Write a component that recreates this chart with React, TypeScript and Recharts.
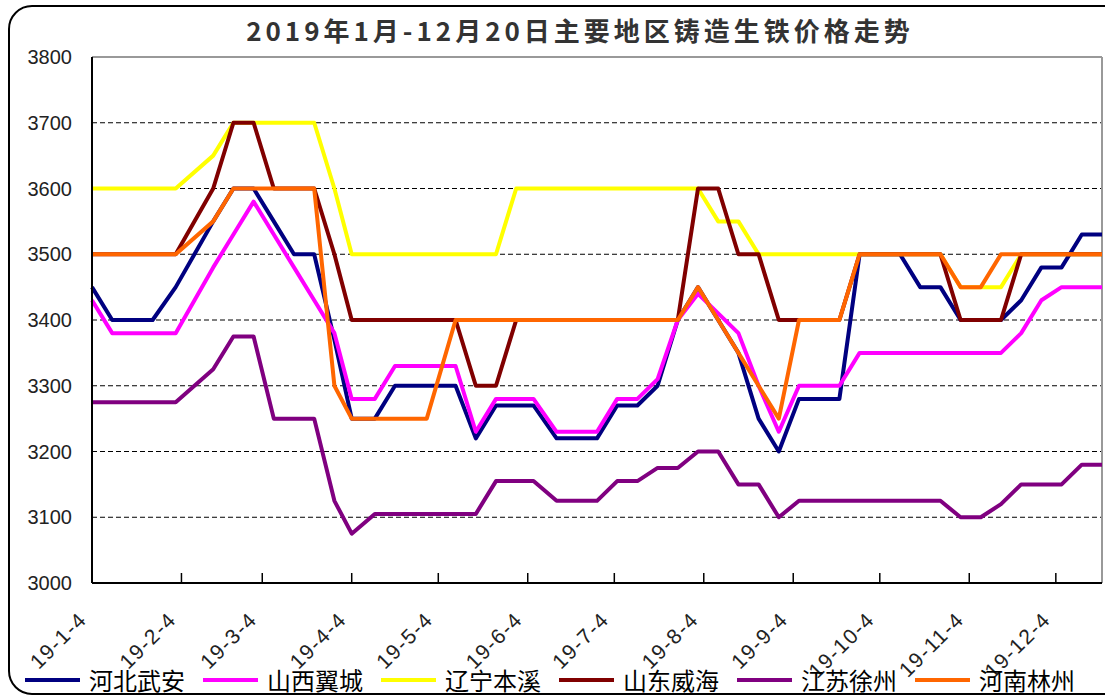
import React from 'react';
import { LineChart, Line, XAxis, YAxis, CartesianGrid, ReferenceLine } from 'recharts';

// weekly quote dates (holiday weeks are missing in the source)
const dates = [
  '2019-01-04', '2019-01-11', '2019-01-18', '2019-01-25', '2019-02-02', '2019-02-15', '2019-02-22',
  '2019-03-01', '2019-03-08', '2019-03-15', '2019-03-22', '2019-03-29', '2019-04-04', '2019-04-12',
  '2019-04-19', '2019-04-26', '2019-04-30', '2019-05-10', '2019-05-17', '2019-05-24', '2019-05-31',
  '2019-06-06', '2019-06-14', '2019-06-21', '2019-06-28', '2019-07-05', '2019-07-12', '2019-07-19',
  '2019-07-26', '2019-08-02', '2019-08-09', '2019-08-16', '2019-08-23', '2019-08-30', '2019-09-06',
  '2019-09-12', '2019-09-20', '2019-09-27', '2019-10-11', '2019-10-18', '2019-10-25', '2019-11-01',
  '2019-11-08', '2019-11-15', '2019-11-22', '2019-11-29', '2019-12-06', '2019-12-13', '2019-12-20',
];

const tickLabels = ['19-1-4', '19-2-4', '19-3-4', '19-4-4', '19-5-4', '19-6-4', '19-7-4', '19-8-4', '19-9-4', '19-10-4', '19-11-4', '19-12-4'];
const yTicks = [3000, 3100, 3200, 3300, 3400, 3500, 3600, 3700, 3800];

const hebeiWuan = [3450, 3400, 3400, 3400, 3450, 3550, 3600, 3600, 3550, 3500, 3500, 3370, 3250, 3250, 3300, 3300, 3300, 3300, 3220, 3270, 3270, 3270, 3220, 3220, 3220, 3270, 3270, 3300, 3400, 3450, 3400, 3350, 3250, 3200, 3280, 3280, 3280, 3500, 3500, 3450, 3450, 3400, 3400, 3400, 3430, 3480, 3480, 3530, 3530];
const shanxiYicheng = [3430, 3380, 3380, 3380, 3380, 3480, 3530, 3580, 3530, 3480, 3430, 3380, 3280, 3280, 3330, 3330, 3330, 3330, 3230, 3280, 3280, 3280, 3230, 3230, 3230, 3280, 3280, 3310, 3400, 3440, 3410, 3380, 3300, 3230, 3300, 3300, 3300, 3350, 3350, 3350, 3350, 3350, 3350, 3350, 3380, 3430, 3450, 3450, 3450];
const liaoningBenxi = [3600, 3600, 3600, 3600, 3600, 3650, 3700, 3700, 3700, 3700, 3700, 3600, 3500, 3500, 3500, 3500, 3500, 3500, 3500, 3500, 3600, 3600, 3600, 3600, 3600, 3600, 3600, 3600, 3600, 3600, 3550, 3550, 3500, 3500, 3500, 3500, 3500, 3500, 3500, 3500, 3500, 3450, 3450, 3450, 3500, 3500, 3500, 3500, 3500];
const shandongWeihai = [3500, 3500, 3500, 3500, 3500, 3600, 3700, 3700, 3600, 3600, 3600, 3500, 3400, 3400, 3400, 3400, 3400, 3400, 3300, 3300, 3400, 3400, 3400, 3400, 3400, 3400, 3400, 3400, 3400, 3600, 3600, 3500, 3500, 3400, 3400, 3400, 3400, 3500, 3500, 3500, 3500, 3400, 3400, 3400, 3500, 3500, 3500, 3500, 3500];
const jiangsuXuzhou = [3275, 3275, 3275, 3275, 3275, 3325, 3375, 3375, 3250, 3250, 3250, 3125, 3075, 3105, 3105, 3105, 3105, 3105, 3105, 3155, 3155, 3155, 3125, 3125, 3125, 3155, 3155, 3175, 3175, 3200, 3200, 3150, 3150, 3100, 3125, 3125, 3125, 3125, 3125, 3125, 3125, 3100, 3100, 3120, 3150, 3150, 3150, 3180, 3180];
const henanLinzhou = [3500, 3500, 3500, 3500, 3500, 3550, 3600, 3600, 3600, 3600, 3600, 3300, 3250, 3250, 3250, 3250, 3250, 3400, 3400, 3400, 3400, 3400, 3400, 3400, 3400, 3400, 3400, 3400, 3400, 3450, 3400, 3350, 3300, 3250, 3400, 3400, 3400, 3500, 3500, 3500, 3500, 3450, 3450, 3500, 3500, 3500, 3500, 3500, 3500];

const series = [
  { key: 'hebei', name: '河北武安', color: '#000080', values: hebeiWuan },
  { key: 'shanxi', name: '山西翼城', color: '#FF00FF', values: shanxiYicheng },
  { key: 'liaoning', name: '辽宁本溪', color: '#FFFF00', values: liaoningBenxi },
  { key: 'shandong', name: '山东威海', color: '#800000', values: shandongWeihai },
  { key: 'jiangsu', name: '江苏徐州', color: '#800080', values: jiangsuXuzhou },
  { key: 'henan', name: '河南林州', color: '#FF6600', values: henanLinzhou },
];

const START = Date.UTC(2019, 0, 4);
const dayOf = (y: number, m: number, d: number) => Math.round((Date.UTC(y, m - 1, d) - START) / 86400000);
const dayOfIso = (s: string) => {
  const [y, m, d] = s.split('-').map(Number);
  return dayOf(y, m, d);
};
const dayOfLabel = (s: string) => {
  const [y, m, d] = s.split('-').map(Number);
  return dayOf(2000 + y, m, d);
};

const lastDay = dayOfIso(dates[dates.length - 1]);
const tickDays = tickLabels.map(dayOfLabel);
const labelByDay: Record<number, string> = {};
tickLabels.forEach((l, i) => { labelByDay[tickDays[i]] = l; });

const data = dates.map((d, i) => {
  const row: Record<string, number> = { day: dayOfIso(d) };
  series.forEach((s) => { row[s.key] = s.values[i]; });
  return row;
});

const DateTick = (props: any) => {
  const { x, y, payload } = props;
  const tx = x - 4;
  const ty = y + 38;
  return (
    <g>
      <line x1={x} y1={y} x2={x} y2={y - 10} stroke="#000" strokeWidth={1.5} />
      <text
        x={tx}
        y={ty}
        textAnchor="end"
        transform={`rotate(-45, ${tx}, ${ty})`}
        fontFamily="'Liberation Sans', Arial, sans-serif"
        fontSize={21}
        letterSpacing={1.5}
        fill="#222"
      >
        {labelByDay[payload.value]}
      </text>
    </g>
  );
};

const App: React.FC = () => {
  return (
    <div style={{ position: 'absolute', left: 0, top: 0, width: 1105, height: 699, overflow: 'hidden', background: '#fff' }}>
      <div
        style={{
          position: 'absolute', left: 8, top: 5, width: 1120, height: 690,
          border: '2px solid #000', borderRadius: 24, boxSizing: 'border-box',
        }}
      />
      <div
        style={{
          position: 'absolute', left: 180, top: 10, width: 800, textAlign: 'center',
          fontFamily: "'Noto Sans CJK SC', sans-serif", fontWeight: 'bold', fontSize: 26,
          letterSpacing: 4, color: '#333', lineHeight: '40px',
        }}
      >
        2019年1月-12月20日主要地区铸造生铁价格走势
      </div>
      <div style={{ position: 'absolute', left: 0, top: 0 }}>
        <LineChart width={1105} height={699} data={data} margin={{ top: 57, right: 3, left: 0, bottom: 0 }}>
          <CartesianGrid horizontal vertical={false} stroke="#000" strokeDasharray="5 3" strokeWidth={1} />
          <XAxis
            dataKey="day"
            type="number"
            domain={[0, lastDay]}
            ticks={tickDays}
            interval={0}
            height={116}
            axisLine={{ stroke: '#000', strokeWidth: 2 }}
            tickLine={false}
            tickSize={0}
            tickMargin={0}
            tick={<DateTick />}
          />
          <YAxis
            type="number"
            domain={[3000, 3800]}
            ticks={yTicks}
            interval={0}
            width={92}
            axisLine={{ stroke: '#000', strokeWidth: 2 }}
            tickLine={false}
            tickSize={18}
            tickMargin={2}
            tick={{ fontFamily: "'Liberation Sans', Arial, sans-serif", fontSize: 20, fill: '#222' }}
          />
          <ReferenceLine y={3800} stroke="#999" strokeWidth={2} />
          <ReferenceLine x={lastDay} stroke="#999" strokeWidth={2} />
          {series.map((s) => (
            <Line
              key={s.key}
              dataKey={s.key}
              name={s.name}
              stroke={s.color}
              strokeWidth={4}
              dot={false}
              activeDot={false}
              strokeLinejoin="round"
              isAnimationActive={false}
            />
          ))}
        </LineChart>
      </div>
      <div
        style={{
          position: 'absolute', left: 25, top: 662, display: 'flex', alignItems: 'center',
          whiteSpace: 'nowrap', fontFamily: "'Noto Sans CJK SC', sans-serif", fontSize: 24, color: '#000',
        }}
      >
        {series.map((s) => (
          <div key={s.key} style={{ display: 'flex', alignItems: 'center', marginRight: 18 }}>
            <span style={{ display: 'inline-block', width: 55, height: 4, background: s.color, marginRight: 9 }} />
            <span>{s.name}</span>
          </div>
        ))}
      </div>
    </div>
  );
};

export default App;
